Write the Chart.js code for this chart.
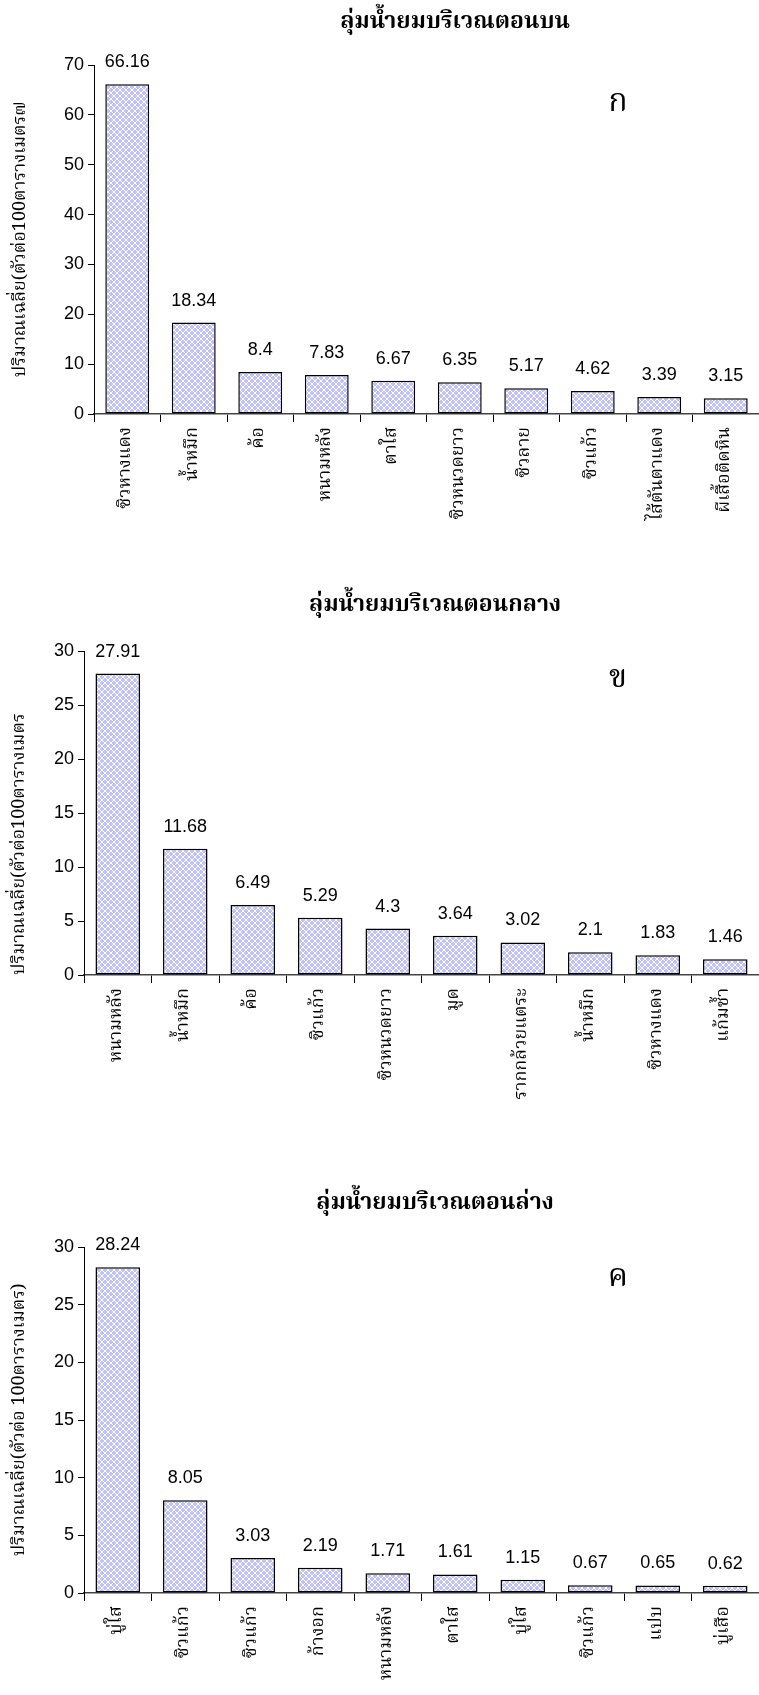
<!DOCTYPE html>
<html><head><meta charset="utf-8">
<script src="https://cdn.jsdelivr.net/npm/chart.js@4/dist/chart.umd.min.js"></script>
<style>
body{margin:0;background:#fff;width:759px;height:1695px;position:relative;overflow:hidden}
.c{position:absolute;left:0;width:759px}
.lbl{position:absolute;font-family:"Noto Serif Thai","Noto Sans Thai",serif;font-size:32px;color:#000;transform:translate(-50%,-50%);line-height:1;white-space:nowrap}
.ttl{position:absolute;font-family:"Noto Serif Thai","Noto Sans Thai",serif;font-size:23px;font-weight:bold;color:#000;transform:translate(-50%,-50%);line-height:1;white-space:nowrap}
</style></head><body>
<div class="c" style="top:0;height:560px"><canvas id="c1"></canvas></div>
<div class="c" style="top:560px;height:620px"><canvas id="c2"></canvas></div>
<div class="c" style="top:1180px;height:515px"><canvas id="c3"></canvas></div>
<div class="ttl" id="t1" style="left:455px;top:22px"></div>
<div class="ttl" id="t2" style="left:435px;top:605px"></div>
<div class="ttl" id="t3" style="left:435px;top:1203px"></div>
<div class="lbl" style="left:618px;top:103px">ก</div>
<div class="lbl" style="left:618px;top:679px">ข</div>
<div class="lbl" style="left:618px;top:1278px">ค</div>
<script>
// ---- data ----
const title1 = "ลุ่มน้ำยมบริเวณตอนบน";
const yTitle1 = "ปริมาณเฉลี่ย(ตัวต่อ100ตารางเมตร๗";
const cats1 = ["ซิวหางแดง","น้ำหมึก","ค้อ","หนามหลัง","ตาใส","ซิวหนวดยาว","ซิวลาย","ซิวแก้ว","ไส้ตันตาแดง","ผีเสื้อติดหิน"];
const vals1 = [66.16,18.34,8.4,7.83,6.67,6.35,5.17,4.62,3.39,3.15];
const ticks1 = {max:70, step:10};

const title2 = "ลุ่มน้ำยมบริเวณตอนกลาง";
const yTitle2 = "ปริมาณเฉลี่ย(ตัวต่อ100ตารางเมตร";
const cats2 = ["หนามหลัง","น้ำหมึก","ค้อ","ซิวแก้ว","ซิวหนวดยาว","มูด","รากกล้วยแตระ","น้ำหมึก","ซิวหางแดง","แก้มช้ำ"];
const vals2 = [27.91,11.68,6.49,5.29,4.3,3.64,3.02,2.1,1.83,1.46];
const ticks2 = {max:30, step:5};

const title3 = "ลุ่มน้ำยมบริเวณตอนล่าง";
const yTitle3 = "ปริมาณเฉลี่ย(ตัวต่อ 100ตารางเมตร)";
const cats3 = ["บู่ใส","ซิวแก้ว","ซิวแก้ว","ก้างอก","หนามหลัง","ตาใส","บู่ใส","ซิวแก้ว","แปบ","บู่เสือ"];
const vals3 = [28.24,8.05,3.03,2.19,1.71,1.61,1.15,0.67,0.65,0.62];
const ticks3 = {max:30, step:5};

document.getElementById('t1').textContent = title1;
document.getElementById('t2').textContent = title2;
document.getElementById('t3').textContent = title3;

// ---- styling ----
const THAI = '"Noto Serif Thai","Noto Sans Thai","Liberation Serif",serif';
const NUM = '"Liberation Sans",Arial,sans-serif';

function makePattern(){
  const p=document.createElement('canvas'); p.width=p.height=6;
  const g=p.getContext('2d');
  g.fillStyle='#c2c2fb'; g.fillRect(0,0,6,6);
  g.strokeStyle='#ffffff'; g.lineWidth=1;
  g.beginPath(); g.moveTo(0,0); g.lineTo(6,6); g.moveTo(6,0); g.lineTo(0,6); g.stroke();
  return g.createPattern(p,'repeat');
}

const valueLabels = {
  id:'valueLabels',
  afterDatasetsDraw(chart){
    const ctx=chart.ctx; const meta=chart.getDatasetMeta(0);
    ctx.save(); ctx.font='18px '+NUM; ctx.fillStyle='#000';
    ctx.textAlign='center'; ctx.textBaseline='middle';
    meta.data.forEach((bar,i)=>{
      ctx.fillText(String(chart.data.datasets[0].data[i]), bar.x, bar.y-22);
    });
    ctx.restore();
  }
};

function makeChart(id, yTitle, cats, vals, tk, L){
  const yF=18, yLH=1.2;
  new Chart(document.getElementById(id), {
    type:'bar',
    data:{labels:cats, datasets:[{data:vals, backgroundColor:makePattern(), borderColor:'#000', borderWidth:1.5, borderSkipped:false, barPercentage:0.66, categoryPercentage:1}]},
    options:{
      responsive:true, maintainAspectRatio:false, animation:false,
      layout:{padding:{top:L.plotTop, left:0, right:0, bottom:0}},
      plugins:{ legend:{display:false}, tooltip:{enabled:false}, title:{display:false} },
      scales:{
        x:{
          grid:{display:true, drawOnChartArea:false, drawTicks:true, tickLength:8, color:'#000', offset:true},
          border:{display:true, color:'#444', width:1.5},
          ticks:{color:'#000', font:{family:THAI, size:18}, minRotation:90, maxRotation:90, padding:5, autoSkip:false},
          afterFit(s){ s.height = L.h - L.plotBottom; }
        },
        y:{
          min:0, max:tk.max,
          grid:{display:true, drawOnChartArea:false, drawTicks:true, tickLength:6, color:'#000'},
          border:{display:true, color:'#000', width:1},
          ticks:{stepSize:tk.step, color:'#000', font:{family:NUM, size:18}, padding:4},
          title:{display:true, text:yTitle, align:L.yAlign, color:'#000', font:{family:THAI, size:yF, lineHeight:yLH}, padding:{top:L.yTitleX - yF*yLH/2, bottom:0}},
          afterFit(s){ s.width = L.axisX; }
        }
      }
    },
    plugins:[valueLabels]
  });
}

makeChart('c1', yTitle1, cats1, vals1, ticks1, {h:560, plotTop:65, plotBottom:414, axisX:94, yTitleX:22, yAlign:'center'});
makeChart('c2', yTitle2, cats2, vals2, ticks2, {h:620, plotTop:91, plotBottom:415, axisX:84, yTitleX:21, yAlign:'start'});
makeChart('c3', yTitle3, cats3, vals3, ticks3, {h:515, plotTop:67, plotBottom:413, axisX:84, yTitleX:21, yAlign:'center'});
</script>
</body></html>
